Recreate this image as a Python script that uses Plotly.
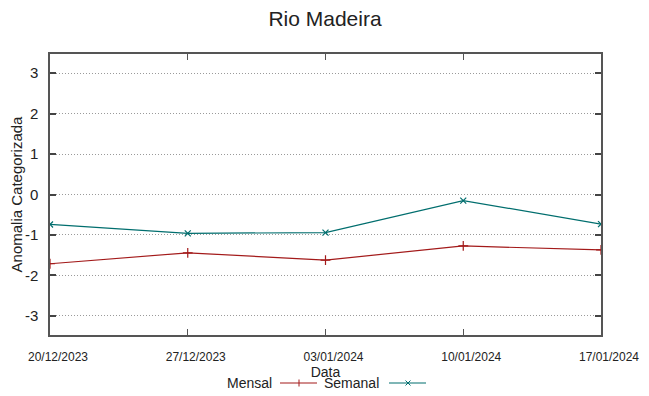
import plotly.graph_objects as go

datas = ["2023-12-20", "2023-12-27", "2024-01-03", "2024-01-10", "2024-01-17"]
rotulos_x = ["20/12/2023", "27/12/2023", "03/01/2024", "10/01/2024", "17/01/2024"]
mensal = [-1.71, -1.44, -1.62, -1.27, -1.37]
semanal = [-0.74, -0.96, -0.94, -0.15, -0.73]
y_ticks = [-3, -2, -1, 0, 1, 2, 3]
y_rotulos = ["-3", "-2", "-1", "0", "1", "2", "3"]

COR_M = "#a31a1a"
COR_S = "#006e6e"
FONT = "Liberation Sans, Arial, sans-serif"

fig = go.Figure()
fig.add_trace(go.Scatter(x=datas, y=mensal, mode="lines+markers", name="Mensal",
                         line=dict(color=COR_M, width=1.2),
                         marker=dict(symbol="cross-thin", size=7, line=dict(color=COR_M, width=1.2))))
fig.add_trace(go.Scatter(x=datas, y=semanal, mode="lines+markers", name="Semanal",
                         line=dict(color=COR_S, width=1.2),
                         marker=dict(symbol="x-thin", size=6, line=dict(color=COR_S, width=1.2))))

OFF = 8  # page body margin
W, H = 649 - OFF, 396 - OFF
L, R, T, B = 50 - OFF, 48, 54 - OFF, 61
ph = H - T - B
pw = W - L - R

def py(pix):
    return (396 - B - pix) / ph

def px(pix):
    return (pix - 50) / pw

# legend (text then sample, gnuplot style)
ly = py(383)
ann = [
    dict(text="Mensal", x=px(274), y=ly, xref="paper", yref="paper", xanchor="right", yanchor="middle",
         showarrow=False, font=dict(family=FONT, size=14, color="#222")),
    dict(text="Semanal", x=px(381), y=ly, xref="paper", yref="paper", xanchor="right", yanchor="middle",
         showarrow=False, font=dict(family=FONT, size=14, color="#222")),
]
shapes = [
    dict(type="line", xref="paper", yref="paper", x0=px(280), x1=px(317), y0=ly, y1=ly,
         line=dict(color=COR_M, width=1.2)),
    dict(type="line", xref="paper", yref="paper", x0=px(389), x1=px(426), y0=ly, y1=ly,
         line=dict(color=COR_S, width=1.2)),
    dict(type="line", xref="paper", yref="paper", x0=px(299), x1=px(299), y0=py(379.5), y1=py(386.5),
         line=dict(color=COR_M, width=1)),
    dict(type="line", xref="paper", yref="paper", x0=px(405.5), x1=px(410.5), y0=py(380.5), y1=py(385.5),
         line=dict(color=COR_S, width=1)),
    dict(type="line", xref="paper", yref="paper", x0=px(405.5), x1=px(410.5), y0=py(385.5), y1=py(380.5),
         line=dict(color=COR_S, width=1)),
]

fig.update_layout(
    width=W, height=H,
    margin=dict(l=L, r=R, t=T, b=B, pad=0),
    paper_bgcolor="white", plot_bgcolor="white",
    showlegend=False,
    title=dict(text="Rio Madeira", x=(325 - OFF) / W, xanchor="center", y=1 - (19 - OFF) / H, yanchor="middle",
               font=dict(family=FONT, size=21, color="#222")),
    font=dict(family=FONT, color="#222"),
    annotations=ann, shapes=shapes,
)
fig.update_xaxes(
    type="date", range=[datas[0], datas[-1]],
    tickvals=datas, ticktext=rotulos_x, automargin=False,
    tickfont=dict(family=FONT, size=12, color="#222"), ticklabelstandoff=10, ticklabelshift=8,
    ticks="inside", ticklen=6, tickcolor="#555", tickwidth=1,
    showline=True, linecolor="#555", linewidth=1.5, mirror="ticks",
    showgrid=False, zeroline=False,
    title=dict(text="Data", font=dict(family=FONT, size=14, color="#222"), standoff=0),
)
fig.update_yaxes(
    range=[-3.47, 3.47], tickvals=y_ticks, ticktext=y_rotulos, automargin=False,
    tickfont=dict(family=FONT, size=15, color="#222"), ticklabelstandoff=7,
    ticks="inside", ticklen=6, tickcolor="#444", tickwidth=1.5,
    showline=True, linecolor="#555", linewidth=1.5, mirror="ticks",
    showgrid=True, gridcolor="#9a9a9a", griddash="1px,2px", gridwidth=1,
    zeroline=False,
    title=dict(text="Anomalia Categorizada", font=dict(family=FONT, size=15, color="#222"), standoff=7),
)

fig.write_html("out.html")
